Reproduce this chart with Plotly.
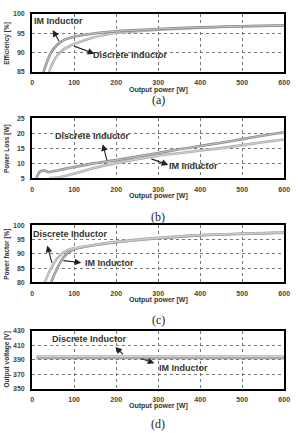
import plotly.graph_objects as go

# ---------------- data ----------------
# (a) Efficiency [%]
eff_im_x = [27, 35, 45, 60, 75, 100, 125, 150, 200, 250, 300, 400, 500, 600]
eff_im_y = [85, 87.5, 90, 92, 93.2, 94.1, 94.6, 95.0, 95.5, 95.8, 96.1, 96.5, 96.8, 97.0]
eff_di_x = [40, 50, 60, 75, 100, 125, 150, 175, 200, 250, 300, 400, 500, 600]
eff_di_y = [85, 87.5, 89.3, 90.8, 92.2, 93.2, 94.0, 94.6, 95.1, 95.5, 95.9, 96.4, 96.8, 97.0]

# (b) Power loss [W]
loss_di_x = [10, 15, 20, 30, 40, 50, 75, 100, 150, 200, 250, 300, 350, 400, 450, 500, 550, 600]
loss_di_y = [5, 6.5, 7.3, 7.5, 7.0, 7.3, 8.0, 8.7, 10.0, 11.0, 12.2, 13.4, 14.6, 15.7, 16.8, 18.0, 19.2, 20.3]
loss_im_x = [40, 60, 80, 100, 150, 200, 250, 300, 350, 400, 450, 500, 550, 600]
loss_im_y = [5, 5.2, 5.8, 6.5, 8.5, 10.0, 11.3, 12.5, 13.3, 14.2, 15.0, 16.0, 17.0, 17.9]

# (c) Power factor [%]
pf_di_x = [30, 40, 50, 60, 70, 80, 90, 100, 150, 200, 300, 400, 500, 600]
pf_di_y = [80, 83.5, 86.3, 88.5, 90.0, 91.0, 91.6, 92.0, 93.2, 94.2, 95.6, 96.6, 97.1, 97.5]
pf_im_x = [45, 55, 65, 75, 85, 95, 100, 150, 200, 300, 400, 500, 600]
pf_im_y = [80, 83.5, 86.5, 88.8, 90.3, 91.3, 91.7, 93.1, 94.1, 95.5, 96.5, 97.0, 97.4]

# (d) Output voltage [V]
vo_x = [10, 100, 200, 300, 400, 500, 600]
vo_di_y = [394.3, 394.3, 394.3, 394.3, 394.3, 394.3, 394.3]
vo_im_y = [392.3, 392.3, 392.3, 392.3, 392.3, 392.3, 392.3]

x_ticks = [0, 100, 200, 300, 400, 500, 600]
y_titles = ["Efficiency [%]", "Power Loss [W]", "Power factor [%]", "Output voltage [V]"]
y_ticks = [[85, 90, 95, 100], [5, 10, 15, 20, 25], [80, 85, 90, 95, 100], [350, 370, 390, 410, 430]]
captions = ["(a)", "(b)", "(c)", "(d)"]
x_title = "Output power [W]"

# ---------------- layout geometry ----------------
W, H = 298, 433
def py(px):
    return 1 - px / H

panels = [(10, 69), (116, 177), (225, 283), (332, 391)]
cap_y = [98, 217, 321, 427]
xdom = [31 / W, 290 / W]

fig = go.Figure()

DARK = "#8a8a8a"
LIGHT = "#b0b0b0"

def add_curve(i, xs, ys, col):
    xa = "x" if i == 0 else f"x{i+1}"
    ya = "y" if i == 0 else f"y{i+1}"
    fig.add_trace(go.Scatter(x=xs, y=ys, mode="lines", xaxis=xa, yaxis=ya,
                             line=dict(color=col, width=2.6, shape="spline", smoothing=0.6),
                             showlegend=False, hoverinfo="skip"))
    fig.add_trace(go.Scatter(x=xs, y=ys, mode="lines", xaxis=xa, yaxis=ya,
                             line=dict(color="#e0e0e0", width=0.7, shape="spline", smoothing=0.6),
                             showlegend=False, hoverinfo="skip"))

add_curve(0, eff_di_x, eff_di_y, LIGHT)
add_curve(0, eff_im_x, eff_im_y, DARK)
add_curve(1, loss_im_x, loss_im_y, LIGHT)
add_curve(1, loss_di_x, loss_di_y, DARK)
add_curve(2, pf_im_x, pf_im_y, DARK)
add_curve(2, pf_di_x, pf_di_y, LIGHT)
add_curve(3, vo_x, vo_im_y, DARK)
add_curve(3, vo_x, vo_di_y, LIGHT)

tickfont = dict(family="Liberation Sans", size=7, color="#444", weight="bold")
axis_common = dict(showline=True, linecolor="black", linewidth=2, mirror=True,
                   showgrid=True, gridcolor="#777", gridwidth=1, griddash="dot",
                   zeroline=False, tickfont=tickfont, ticks="")

layout = dict(width=W, height=H, margin=dict(l=0, r=0, t=0, b=0),
              paper_bgcolor="white", plot_bgcolor="white", showlegend=False)

annotations = []
for i, (top, bot) in enumerate(panels):
    sx = "" if i == 0 else str(i + 1)
    layout[f"xaxis{sx}"] = dict(axis_common, domain=xdom, range=[0, 600], tickvals=x_ticks,
                               anchor=f"y{sx}", ticklen=0, ticklabelstandoff=3)
    layout[f"yaxis{sx}"] = dict(axis_common, domain=[py(bot), py(top)],
                               range=[y_ticks[i][0], y_ticks[i][-1]],
                               tickvals=y_ticks[i], anchor=f"x{sx}", ticklabelstandoff=4)
    # x axis title
    annotations.append(dict(text=x_title, xref="paper", yref="paper", x=(xdom[0] + xdom[1]) / 2,
                            y=py(bot + 18), showarrow=False, yanchor="middle",
                            font=dict(family="Liberation Sans", size=7, color="#333", weight="bold")))
    # y axis title
    annotations.append(dict(text=y_titles[i], xref="paper", yref="paper", x=5 / W,
                            y=py((top + bot) / 2), showarrow=False, textangle=-90,
                            xanchor="center", yanchor="middle",
                            font=dict(family="Liberation Sans", size=6.5, color="#333", weight="bold")))
    # caption
    annotations.append(dict(text=captions[i], xref="paper", yref="paper", x=(xdom[0] + xdom[1]) / 2,
                            y=py(cap_y[i]), showarrow=False, yanchor="middle",
                            font=dict(family="Liberation Serif", size=12, color="#222")))

labfont = dict(family="Liberation Sans", size=9, color="#333", weight="bold")

def label(i, text, x, y):
    sx = "" if i == 0 else str(i + 1)
    annotations.append(dict(text=text, x=x, y=y, xref=f"x{sx}", yref=f"y{sx}",
                            showarrow=False, font=labfont))

def arrow(i, hx, hy, tx, ty):
    sx = "" if i == 0 else str(i + 1)
    annotations.append(dict(text="", x=hx, y=hy, ax=tx, ay=ty, xref=f"x{sx}", yref=f"y{sx}",
                            axref=f"x{sx}", ayref=f"y{sx}", showarrow=True, arrowhead=2,
                            arrowsize=1.2, arrowwidth=1.1, arrowcolor="#222"))

label(0, "IM Inductor", 63, 98.1)
arrow(0, 49, 95.8, 66, 92.6)
label(0, "Discrete Inductor", 233, 89.4)
arrow(0, 148, 89.7, 96, 91.8)

label(1, "Discrete Inductor", 143, 19.1)
arrow(1, 168, 16.3, 179, 10.4)
label(1, "IM Inductor", 384, 9.2)
arrow(1, 324, 9.4, 280, 11.6)

label(2, "Discrete Inductor", 92, 97.1)
arrow(2, 36, 92.9, 48, 86.3)
label(2, "IM Inductor", 183, 86.9)
arrow(2, 117, 86.9, 71, 87.7)

label(3, "Discrete Inductor", 137, 417.8)
arrow(3, 198, 407.4, 220, 395.2)
label(3, "IM Inductor", 361, 378)
arrow(3, 291, 385, 256, 392.5)

layout["annotations"] = annotations
fig.update_layout(**layout)
fig.write_html("out.html")
